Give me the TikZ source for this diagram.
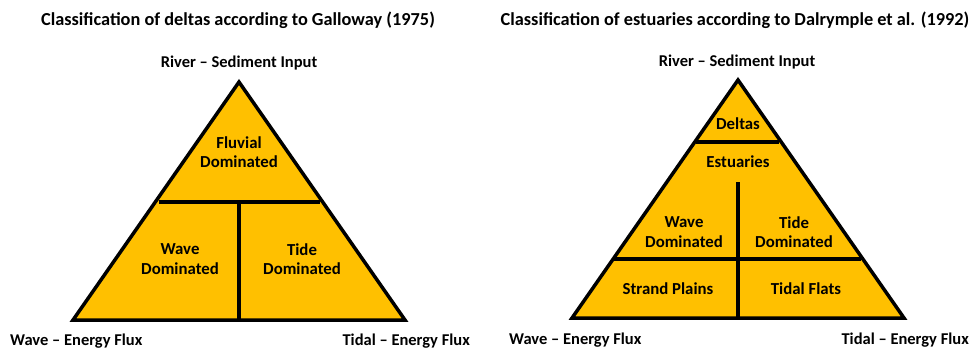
\documentclass[tikz,border=0pt]{standalone}
\usepackage{fontspec}
\setmainfont{Carlito}
\definecolor{amber}{HTML}{FFC000}
\begin{document}
\begin{tikzpicture}[x=1pt,y=-1pt,
  tri/.style={fill=amber,draw=black,line width=3.5pt,line join=miter},
  divider/.style={draw=black,line width=3.5pt},
  lbl/.style={font=\fontsize{16.5}{19}\selectfont\bfseries,inner sep=0pt},
  ttl/.style={font=\fontsize{18.3}{21}\selectfont\bfseries,inner sep=0pt},
  cell/.style={font=\fontsize{16.8}{19.5}\selectfont\bfseries,align=center,inner sep=0pt}]
\useasboundingbox (0,0) rectangle (971,348);
% ---------- left triangle ----------
\coordinate (LA) at (239,82);
\coordinate (LB) at (73,320);
\coordinate (LC) at (405,320);
\coordinate (LH1) at (159,202);
\coordinate (LH2) at (320,202);
\coordinate (LV1) at (239,202);
\coordinate (LV2) at (239,320);
\draw[tri] (LA) -- (LB) -- (LC) -- cycle;
\draw[divider] (LH1) -- (LH2);
\draw[divider] (LV1) -- (LV2);
\node[ttl] (ltitle) at (238,20) {Classification of deltas according to Galloway (1975)};
\node[lbl] (lriver) at (239,63) {River -- Sediment Input};
\node[lbl,anchor=west] (lwave) at (10,341) {Wave -- Energy Flux};
\node[lbl,anchor=east] (ltidal) at (470,341) {Tidal -- Energy Flux};
\node[cell] (lfluv) at (239,152) {Fluvial\\Dominated};
\node[cell] (lwdom) at (180,259) {Wave\\Dominated};
\node[cell] (ltdom) at (302,259) {Tide\\Dominated};
% ---------- right triangle ----------
\coordinate (RA) at (738,80);
\coordinate (RB) at (572,318);
\coordinate (RC) at (904,318);
\coordinate (RD1) at (696,142);
\coordinate (RD2) at (779,142);
\coordinate (RH1) at (614,259);
\coordinate (RH2) at (861,259);
\coordinate (RV1) at (738,182);
\coordinate (RV2) at (738,318);
\draw[tri] (RA) -- (RB) -- (RC) -- cycle;
\draw[divider] (RD1) -- (RD2);
\draw[divider] (RH1) -- (RH2);
\draw[divider] (RV1) -- (RV2);
\node[ttl] (rtitle) at (735,20) {Classification of estuaries according to Dalrymple et al. (1992)};
\node[lbl] (rriver) at (737,62) {River -- Sediment Input};
\node[lbl,anchor=west] (rwave) at (509,340) {Wave -- Energy Flux};
\node[lbl,anchor=east] (rtidal) at (969,340) {Tidal -- Energy Flux};
\node[cell] (rdeltas) at (738,124) {Deltas};
\node[cell] (restu) at (738,162) {Estuaries};
\node[cell] (rwdom) at (684,232) {Wave\\Dominated};
\node[cell] (rtdom) at (794,232) {Tide\\Dominated};
\node[cell] (rstrand) at (668,289) {Strand Plains};
\node[cell] (rflats) at (806,289) {Tidal Flats};
\end{tikzpicture}
\end{document}
